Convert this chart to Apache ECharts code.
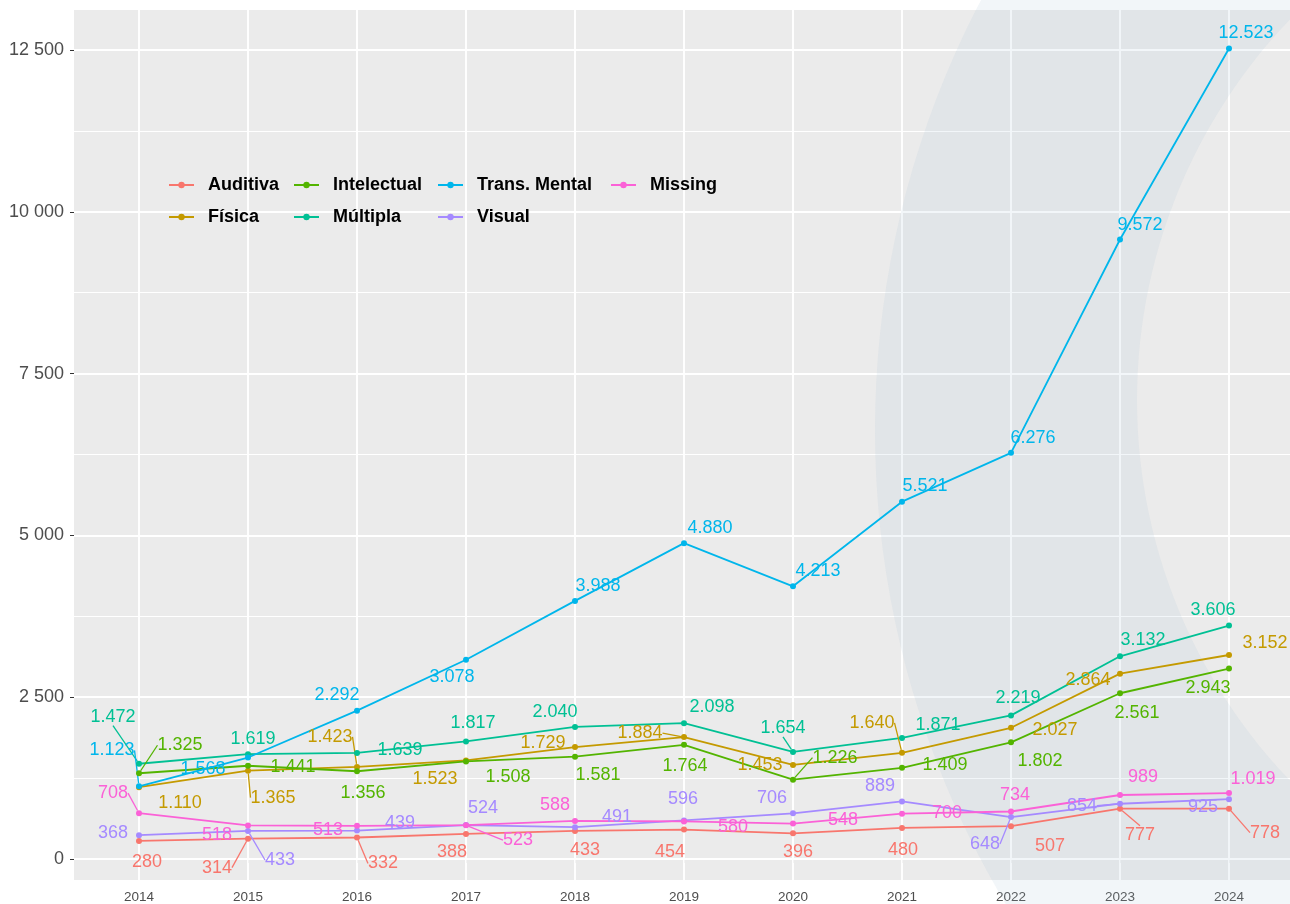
<!DOCTYPE html>
<html>
<head>
<meta charset="utf-8">
<script src="https://cdn.jsdelivr.net/npm/echarts@6/dist/echarts.min.js"></script>
<style>html,body{margin:0;padding:0;background:#fff}#c{width:1290px;height:904px}</style>
</head>
<body>
<div id="c"></div>
<script>
// ---------- data ----------
const years = [2014, 2015, 2016, 2017, 2018, 2019, 2020, 2021, 2022, 2023, 2024];
const auditiva    = [280, 314, 332, 388, 433, 454, 396, 480, 507, 777, 778];
const fisica      = [1110, 1365, 1423, 1523, 1729, 1884, 1453, 1640, 2027, 2864, 3152];
const intelectual = [1325, 1441, 1356, 1508, 1581, 1764, 1226, 1409, 1802, 2561, 2943];
const multipla    = [1472, 1619, 1639, 1817, 2040, 2098, 1654, 1871, 2219, 3132, 3606];
const transMental = [1123, 1568, 2292, 3078, 3988, 4880, 4213, 5521, 6276, 9572, 12523];
const visual      = [368, 433, 439, 524, 491, 596, 706, 889, 648, 854, 925];
const missing     = [708, 518, 513, 523, 588, 580, 548, 700, 734, 989, 1019];
const seriesNames = ['Auditiva', 'Física', 'Intelectual', 'Múltipla', 'Trans. Mental', 'Visual', 'Missing'];
const seriesValues = [auditiva, fisica, intelectual, multipla, transMental, visual, missing];
const yTicks = [0, 2500, 5000, 7500, 10000, 12500];
const yMinor = [1250, 3750, 6250, 8750, 11250];

// ---------- styles / layout ----------
const colors = ['#F8766D', '#C49A00', '#53B400', '#00C094', '#00B6EB', '#A58AFF', '#FB61D7'];
const FONT = '"Liberation Sans", Arial, Helvetica, sans-serif';
// panel layout: 109 px per year, first year 65 px right of the panel's left edge
const PANEL_LEFT = 74, PANEL_WIDTH = 1216, PX_PER_YEAR = 109, FIRST_OFFSET = 65;
const X_MIN = years[0] - FIRST_OFFSET / PX_PER_YEAR;
const X_MAX = X_MIN + PANEL_WIDTH / PX_PER_YEAR;
// label placement (pixel offsets of label centre from its point, and whether a leader line is drawn)
const labelPlacement = [
  [[8,21,0],[-31,29,1],[26,26,1],[-14,18,0],[10,19,0],[-14,22,0],[5,19,0],[1,22,0],[39,20,0],[20,26,1],[36,24,1]],
  [[41,16,0],[25,27,1],[-27,-30,1],[-31,19,0],[-32,-4,0],[-44,-4,1],[-33,0,0],[-30,-30,1],[44,2,0],[-32,6,0],[36,-12,0]],
  [[41,-28,1],[45,1,0],[6,22,0],[42,16,0],[23,18,0],[1,21,0],[42,-22,1],[43,-3,0],[29,19,0],[17,20,0],[-21,20,0]],
  [[-26,-47,1],[5,-15,0],[43,-3,0],[7,-18,0],[-20,-15,0],[28,-16,0],[-10,-24,1],[36,-13,0],[7,-17,0],[23,-16,0],[-16,-16,0]],
  [[-27,-36,1],[-45,12,0],[-20,-16,0],[-14,17,0],[23,-15,0],[26,-15,0],[25,-15,0],[23,-16,0],[22,-15,0],[20,-14,0],[17,-15,0]],
  [[-26,-2,0],[32,29,1],[43,-8,0],[17,-17,0],[42,-10,0],[-1,-21,0],[-21,-15,0],[-22,-15,0],[-26,27,1],[-38,2,1],[-26,8,0]],
  [[-26,-20,1],[-31,10,0],[-29,4,0],[52,15,1],[-20,-16,0],[49,6,0],[50,-4,0],[45,-1,0],[4,-16,0],[23,-18,0],[24,-14,0]]
];
const legendCols = [['Auditiva', 'Física'], ['Intelectual', 'Múltipla'], ['Trans. Mental', 'Visual'], ['Missing']];
const legendLeft = [168, 293, 437, 610];

function fmtDot(v) { return String(v).replace(/\B(?=(\d{3})+(?!\d))/g, '.'); }
function fmtSpace(v) { return String(v).replace(/\B(?=(\d{3})+(?!\d))/g, ' '); }

// decorative crescent watermark
function circlePts(cx, cy, r, n, rev) {
  const pts = [];
  for (let k = 0; k <= n; k++) {
    const a = (rev ? -1 : 1) * 2 * Math.PI * k / n;
    pts.push([cx + r * Math.cos(a), cy + r * Math.sin(a)]);
  }
  return pts;
}
const crescent = circlePts(1800, 430, 925, 240, false).concat(circlePts(1687, 400, 550, 240, true));

const chart = echarts.init(document.getElementById('c'), null, {renderer: 'canvas'});

const major = {color: '#FFFFFF', width: 1.9, type: 'solid'};
const minor = {color: '#FFFFFF', width: 1, type: 'solid'};

const series = seriesNames.map((name, i) => ({
  name: name,
  type: 'line',
  z: 3,
  data: years.map((y, j) => ({
    value: [y, seriesValues[i][j]],
    labelLine: {show: !!labelPlacement[i][j][2]}
  })),
  symbol: 'circle',
  symbolSize: 6,
  showSymbol: true,
  clip: false,
  lineStyle: {width: 1.8, color: colors[i]},
  itemStyle: {color: colors[i]},
  label: {
    show: true, position: 'inside',
    formatter: p => fmtDot(p.value[1]),
    color: colors[i], fontSize: 18, fontFamily: FONT
  },
  labelLine: {show: false, lineStyle: {color: colors[i], width: 1.3}},
  labelLayout: p => ({dx: labelPlacement[i][p.dataIndex][0], dy: labelPlacement[i][p.dataIndex][1]}),
  emphasis: {disabled: true},
  animation: false
}));

series.unshift({
  name: '__grid', type: 'line', data: [], z: 1, silent: true, animation: false,
  markLine: {
    silent: true, z: 1, animation: false, symbol: ['none', 'none'],
    label: {show: false}, emphasis: {disabled: true},
    data: years.map(y => ({xAxis: y, lineStyle: major}))
      .concat(yTicks.map(v => ({yAxis: v, lineStyle: major})))
      .concat(yMinor.map(v => ({yAxis: v, lineStyle: minor})))
  }
});

const option = {
  backgroundColor: '#FFFFFF',
  animation: false,
  grid: {left: PANEL_LEFT, top: 10, width: PANEL_WIDTH, height: 870, show: true, backgroundColor: '#EBEBEB', borderWidth: 0, containLabel: false},
  xAxis: {
    type: 'value', min: X_MIN, max: X_MAX,
    axisLine: {show: false},
    splitLine: {show: false},
    axisTick: {show: true, customValues: years, length: 4, lineStyle: {color: '#333333', width: 1}},
    axisLabel: {customValues: years, formatter: v => String(v), color: '#4D4D4D', fontSize: 13.5, fontFamily: FONT, margin: 10}
  },
  yAxis: {
    type: 'value', min: -324.5, max: 13118,
    axisLine: {show: false},
    splitLine: {show: false},
    axisTick: {show: true, customValues: yTicks, length: 4, lineStyle: {color: '#333333', width: 1}},
    axisLabel: {customValues: yTicks, formatter: v => fmtSpace(v), color: '#4D4D4D', fontSize: 18, fontFamily: FONT, margin: 10}
  },
  legend: legendCols.map((d, k) => ({
    data: d, orient: 'vertical', left: legendLeft[k], top: 176, padding: 0,
    itemGap: 14, itemWidth: 25, itemHeight: 8, selectedMode: false,
    textStyle: {fontSize: 18, fontWeight: 'bold', color: '#000000', fontFamily: FONT, padding: [0, 0, 0, 9], lineHeight: 18}
  })),
  graphic: [{
    type: 'polygon', silent: true, z: 2,
    shape: {points: crescent},
    style: {fill: 'rgba(168,195,215,0.15)'}
  }],
  series: series
};
chart.setOption(option);
</script>
</body>
</html>
